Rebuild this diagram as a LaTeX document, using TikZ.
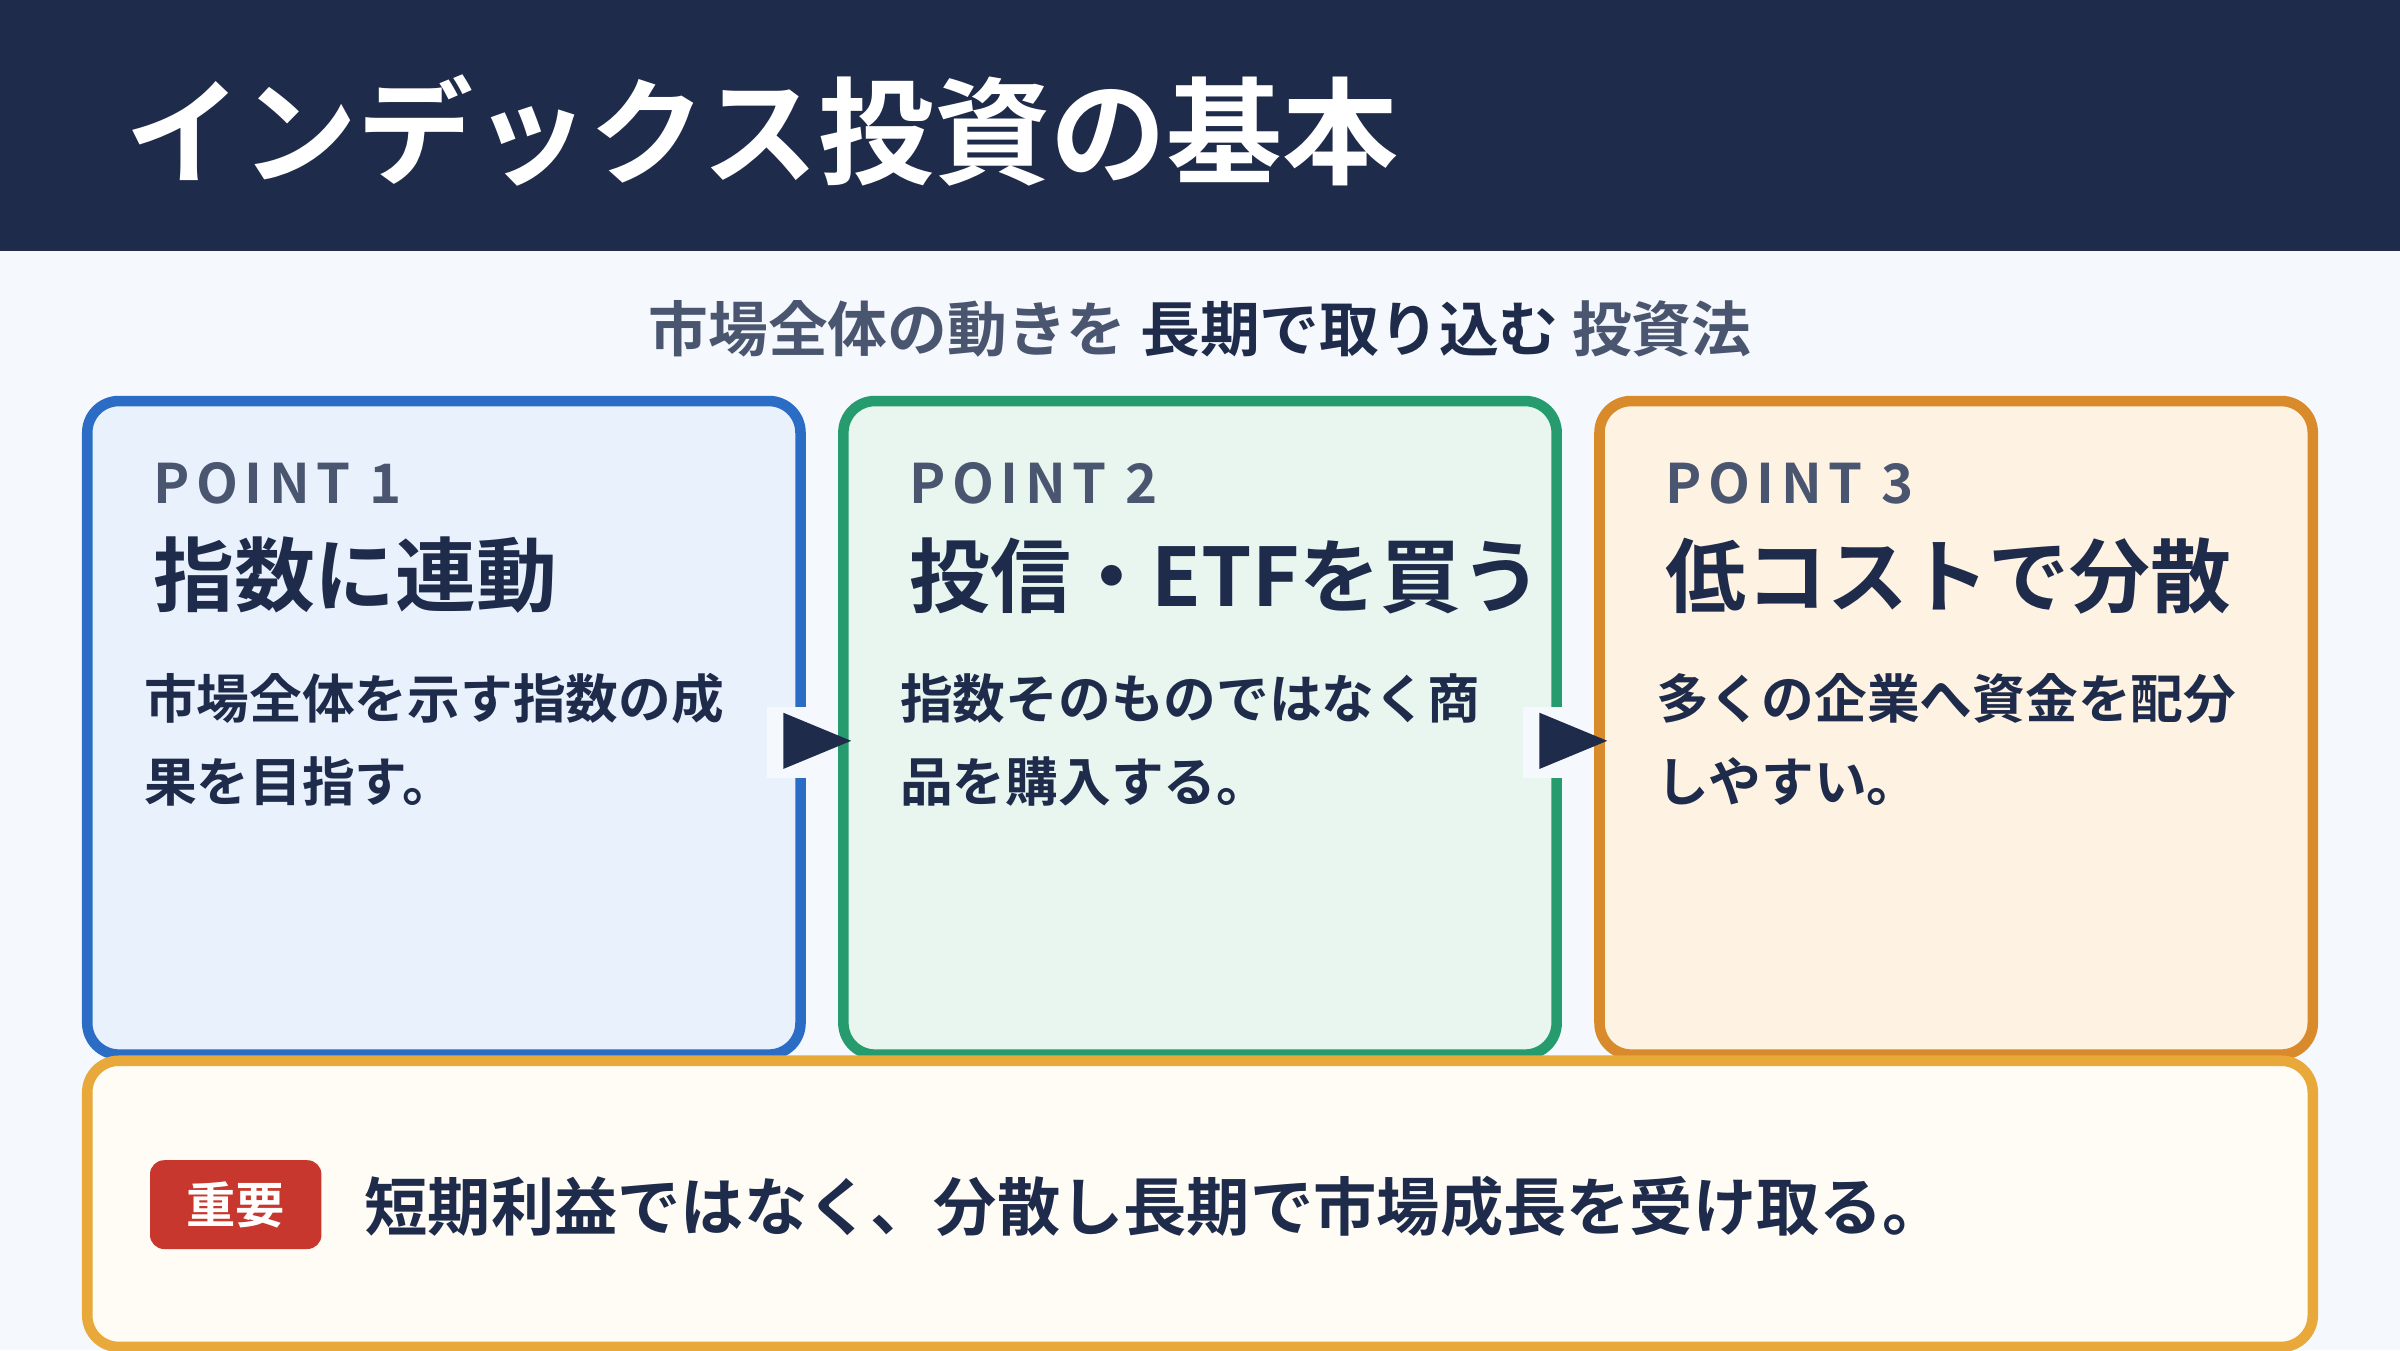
\documentclass[tikz,border=0pt]{standalone}
\usepackage{fontspec}
\setmainfont{Noto Sans CJK JP}[BoldFont={* Bold}]
\usetikzlibrary{positioning,shapes.geometric}
\definecolor{navy}{HTML}{1E2B4A}
\definecolor{slate}{HTML}{4A5670}
\definecolor{paper}{HTML}{F5F8FC}
\definecolor{blueline}{HTML}{2B6CC4}
\definecolor{bluefill}{HTML}{E8F1FC}
\definecolor{greenline}{HTML}{259B6E}
\definecolor{greenfill}{HTML}{E8F6EF}
\definecolor{orangeline}{HTML}{D98A2B}
\definecolor{orangefill}{HTML}{FEF3E3}
\definecolor{noteline}{HTML}{E8A93A}
\definecolor{notefill}{HTML}{FEFCF5}
\definecolor{badgered}{HTML}{C8372D}
\tikzset{
  card/.style={line width=3pt, rounded corners=9pt},
  point/.style={anchor=west, text=slate, font=\fontsize{15.5}{18}\selectfont\bfseries\addfontfeature{LetterSpace=12}},
  head/.style={anchor=west, text=navy, font=\fontsize{23}{28}\selectfont\bfseries},
  body/.style={anchor=north west, text=navy, align=left, font=\fontsize{15}{23.5}\selectfont\bfseries},
  pointer/.style={isosceles triangle, fill=navy, minimum height=14pt, minimum width=16pt, inner sep=0pt}
}
\begin{document}
\begin{tikzpicture}[x=0.01531cm,y=-0.01531cm]
    \useasboundingbox (0,0) rectangle (1568,882);
    \fill[paper] (0,0) rectangle (1568,882);
    \fill[navy] (0,0) rectangle (1568,164);
    \node[anchor=west, text=white, font=\fontsize{33}{38}\selectfont\bfseries] (title) at (74,85) {インデックス投資の基本};
    \node[font=\fontsize{17}{20}\selectfont\bfseries, text=slate] (sub) at (784,215) {市場全体の動きを \textcolor{navy}{長期で取り込む} 投資法};
    % three cards
    \draw[card, draw=blueline, fill=bluefill] (57,262) rectangle (523,689);
    \draw[card, draw=greenline, fill=greenfill] (551,262) rectangle (1017,689);
    \draw[card, draw=orangeline, fill=orangefill] (1045,262) rectangle (1511,689);
    \node[point] (p1) at (92,316) {POINT 1};
    \node[head] (h1) at (92,376) {指数に連動};
    \node[body] (b1) at (86,432) {市場全体を示す指数の成\\果を目指す。};
    \node[point] (p2) at (586,316) {POINT 2};
    \node[head] (h2) at (586,376) {投信・ETFを買う};
    \node[body] (b2) at (580,432) {指数そのものではなく商\\品を購入する。};
    \node[point] (p3) at (1080,316) {POINT 3};
    \node[head] (h3) at (1080,376) {低コストで分散};
    \node[body] (b3) at (1074,432) {多くの企業へ資金を配分\\しやすい。};
    % pointers between cards
    \fill[paper] (501,462) rectangle (545,508);
    \fill[paper] (995,462) rectangle (1039,508);
    \node[pointer] (s1) at (524,484) {};
    \node[pointer] (s2) at (1018,484) {};
    % note
    \draw[card, draw=noteline, fill=notefill] (57,693) rectangle (1511,880);
    \node[fill=badgered, rounded corners=4pt, minimum width=112*0.01531cm, minimum height=58*0.01531cm, text=white, font=\fontsize{14}{16}\selectfont\bfseries] (badge) at (154,787) {重要};
    \node[anchor=west, text=navy, font=\fontsize{18}{22}\selectfont\bfseries] (note) at (230,788) {短期利益ではなく、分散し長期で市場成長を受け取る。};
\end{tikzpicture}
\end{document}
